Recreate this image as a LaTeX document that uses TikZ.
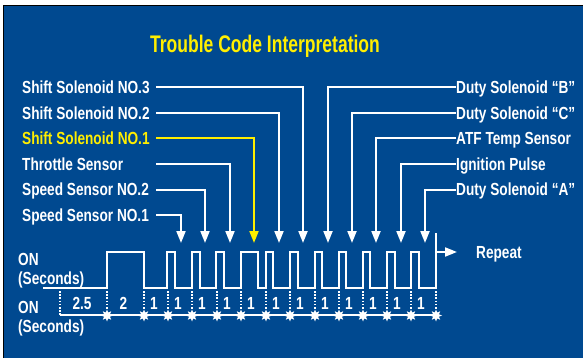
\documentclass[tikz,border=0pt]{standalone}
\usepackage{fontspec}
\newfontfamily\labelfont{Liberation Sans}[FakeStretch=0.78]
\newfontfamily\titlefont{Liberation Sans}[FakeStretch=0.73]
\usetikzlibrary{arrows.meta, shapes.geometric}
\definecolor{panelblue}{RGB}{0,73,144}
\definecolor{codeyellow}{RGB}{255,238,0}

\begin{document}
\begin{tikzpicture}[x=1pt, y=-1pt,
    lbl/.style={font=\labelfont\bfseries\fontsize{17.5}{20}\selectfont, text=white, inner sep=0pt, text height=12.5pt, text depth=0pt},
    leftlbl/.style={lbl, anchor=west},
    rightlbl/.style={lbl, anchor=west},
    onlbl/.style={font=\labelfont\bfseries\fontsize{17.5}{19}\selectfont, text=white, inner sep=0pt, align=left, anchor=base west},
    num/.style={font=\labelfont\bfseries\fontsize{17.5}{20}\selectfont, text=white, inner sep=0pt, anchor=base},
    lead/.style={white, line width=2pt, -{Triangle[width=9pt, length=12pt]}},
    wave/.style={white, line width=1.8pt},
    dotline/.style={white, line width=1.2pt, dash pattern=on 1.6pt off 1.6pt},
    sec/.style={star, star points=8, star point ratio=1.9, minimum size=12pt, inner sep=0pt, fill=white}]
    \useasboundingbox (0,0) rectangle (583,358);
    \fill [panelblue] (3,6) rectangle (584,359);
    \draw [black, line width=1pt] (3,359) -- (3,6) -- (584,6);

    \node (Title) [font=\titlefont\bfseries\fontsize{24}{28}\selectfont, text=codeyellow, anchor=base, inner sep=0pt] at (265,53) {Trouble Code Interpretation};

    \node (ShiftSol3) [leftlbl] at (22,87.5) {Shift Solenoid NO.3};
    \node (ShiftSol2) [leftlbl] at (22,113) {Shift Solenoid NO.2};
    \node (ShiftSol1) [leftlbl, text=codeyellow] at (22,138.5) {Shift Solenoid NO.1};
    \node (Throttle) [leftlbl] at (22,164) {Throttle Sensor};
    \node (SpeedSens2) [leftlbl] at (22,189.5) {Speed Sensor NO.2};
    \node (SpeedSens1) [leftlbl] at (22,215) {Speed Sensor NO.1};

    \node (DutyB) [rightlbl] at (456,87.5) {Duty Solenoid “B”};
    \node (DutyC) [rightlbl] at (456,113) {Duty Solenoid “C”};
    \node (ATF) [rightlbl] at (456,138.5) {ATF Temp Sensor};
    \node (Ignition) [rightlbl] at (456,164) {Ignition Pulse};
    \node (DutyA) [rightlbl] at (456,189.5) {Duty Solenoid “A”};

    \coordinate (LeadStart) at (156,0);
    \coordinate (t1) at (181,243);
    \coordinate (t2) at (205,243);
    \coordinate (t3) at (230,243);
    \coordinate (t4) at (254,243);
    \coordinate (t5) at (279,243);
    \coordinate (t6) at (303,243);
    \coordinate (t7) at (328,243);
    \coordinate (t8) at (352,243);
    \coordinate (t9) at (376,243);
    \coordinate (t10) at (401,243);
    \coordinate (t11) at (425,243);

    \draw [lead] (SpeedSens1.east -| LeadStart) -| (t1);
    \draw [lead] (SpeedSens2.east -| LeadStart) -| (t2);
    \draw [lead] (Throttle.east -| LeadStart) -| (t3);
    \draw [lead, codeyellow] (ShiftSol1.east -| LeadStart) -| (t4);
    \draw [lead] (ShiftSol2.east -| LeadStart) -| (t5);
    \draw [lead] (ShiftSol3.east -| LeadStart) -| (t6);
    \draw [lead] (DutyB.west) -| (t7);
    \draw [lead] (DutyC.west) -| (t8);
    \draw [lead] (ATF.west) -| (t9);
    \draw [lead] (Ignition.west) -| (t10);
    \draw [lead] (DutyA.west) -| (t11);

    \node (OnTop) [onlbl] at (18,284) {ON\\(Seconds)};
    \node (OnBottom) [onlbl] at (18,332) {ON\\(Seconds)};

    \draw [wave] (43,288) -- (107,288) -- (107,252) -- (144,252) -- (144,288)
        \foreach \a/\b in {167/175, 192/200, 216/224, 241/258, 266/273, 290/298, 315/322, 339/346, 363/370, 387/395, 411/419} { -- (\a,288) -- (\a,252) -- (\b,252) -- (\b,288) }
        -- (436,288) -- (436,233);

    \coordinate (RepStart) at (436,252);
    \coordinate (RepEnd) at (457,252);
    \draw [lead] (RepStart) -- (RepEnd);
    \node (Repeat) [rightlbl] at (476,252) {Repeat};

    \coordinate (AxisStart) at (60,315);
    \coordinate (AxisEnd) at (436,315);
    \draw [dotline] (60,291) -- (AxisStart);
    \draw [white, line width=1.5pt] (AxisStart) -- (AxisEnd);
    \foreach \x [count=\i] in {107,144,168,192,217,241,266,290,315,339,363,387,411,436} {
        \draw [dotline] (\x,291) -- (\x,309);
        \node (s\i) [sec] at (\x,315.5) {};
    }

    \node (n0) [num] at (82,309) {2.5};
    \node (n1) [num] at (123.5,309) {2};
    \foreach \x [count=\i from 2] in {154,178,202,227,251,276,300,325,349,373,397,421} {
        \node (n\i) [num] at (\x,309) {1};
    }
\end{tikzpicture}
\end{document}
